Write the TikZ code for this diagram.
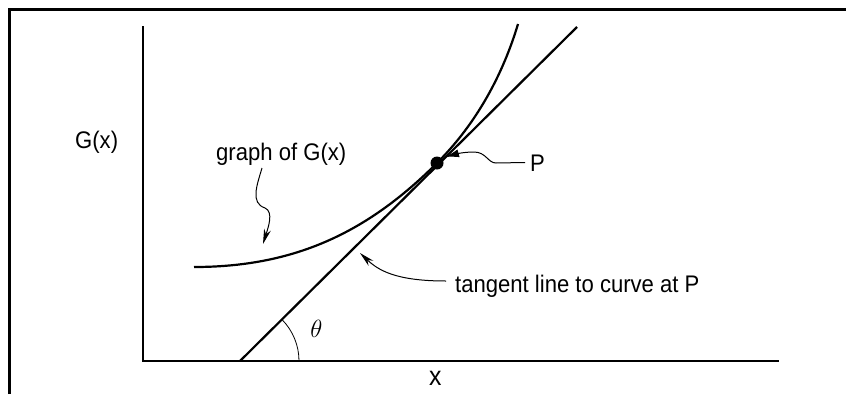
\documentclass[tikz,border=0pt]{standalone}
\usepackage{fontspec}
\setmainfont{Liberation Sans}[FakeStretch=0.92]
\usetikzlibrary{arrows.meta}
\begin{document}
\begin{tikzpicture}[x=1pt,y=-1pt,
  lbl/.style={inner sep=0pt, anchor=base west, font=\fontsize{24}{28}\selectfont},
  thickline/.style={line width=2.2pt},
  thinline/.style={line width=1.1pt},
  leader/.style={line width=1pt, -{Stealth[length=15pt,width=7pt]}},
  dot/.style={circle, fill, inner sep=0pt, minimum size=13pt}]
\useasboundingbox (0,0) rectangle (846,394);
% frame
\draw[line width=3pt] (9,394) -- (9,9) -- (846,9);
% axes
\coordinate (O) at (143,361);
\coordinate (Ytop) at (143,26);
\coordinate (Xend) at (779,361);
\draw[thinline] (Ytop) -- (O) -- (Xend);
% tangent line
\coordinate (T0) at (240,361);
\coordinate (T1) at (577,27);
\draw[thickline] (T0) -- (T1);
% curve
\coordinate (A) at (194,267);
\coordinate (C) at (518,24);
\node[dot] (P) at (437,163) {};
\draw[thickline] (A) .. controls (294,267) and (367,233) .. (P.center)
  .. controls (477,123) and (503,74) .. (C);
% angle
\draw[line width=0.8pt] (T0) ++(59,0) arc[start angle=0, end angle=-44.7, radius=59];
% labels
\node[lbl] (Gx) at (75,148) {G(x)};
\node[lbl] (graphlbl) at (216,160) {graph of G(x)};
\node[lbl] (tanlbl) at (455,292) {tangent line to curve at P};
\node[lbl] (Plbl) at (530,171) {P};
\node[lbl, font=\fontsize{27}{30}\selectfont] (xlbl) at (429,385) {x};
\node[inner sep=0pt, font=\fontsize{26}{30}\selectfont] (th) at (316.5,329) {$\theta$};
% leaders
\coordinate (g0) at (262,168);
\coordinate (g1) at (263,244);
\draw[leader] (g0) .. controls (257,185) and (250,203) .. (265,208)
  .. controls (274,212) and (268,228) .. (g1);
\coordinate (t1) at (360,253);
\draw[leader] ([xshift=-9pt,yshift=11pt]tanlbl.base west) .. controls (395,281) and (378,270) .. (t1);
\coordinate (p1) at (445,157);
\draw[line width=1pt, -{Latex[length=14pt,width=8pt]}] ([xshift=-5pt,yshift=8.5pt]Plbl.base west) -- (496,163)
  .. controls (488,163) and (486,152) .. (474,152)
  .. controls (464,152) and (456,154) .. (p1);
\end{tikzpicture}
\end{document}
